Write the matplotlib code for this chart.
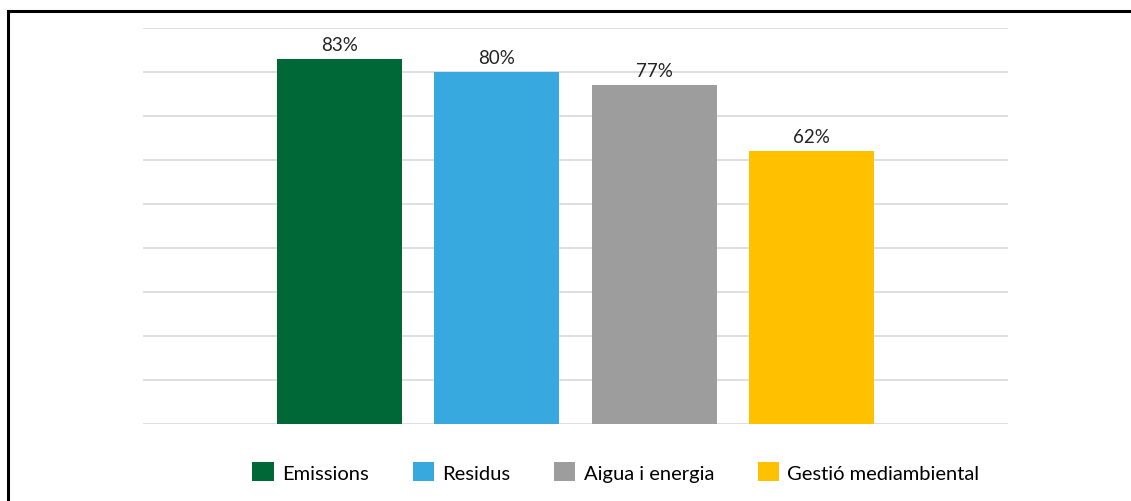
import matplotlib.pyplot as plt
from matplotlib.patches import Rectangle

plt.rcParams['font.family'] = ['Lato', 'DejaVu Sans']

# Chart data
series = ["Emissions", "Residus", "Aigua i energia", "Gestió mediambiental"]
values = [83, 80, 77, 62]
colors = ["#006837", "#38A9DF", "#9D9D9D", "#FFC000"]
yticks = [0, 10, 20, 30, 40, 50, 60, 70, 80, 90]

W, H = 1131, 502
fig = plt.figure(figsize=(W / 100, H / 100), dpi=100)
ax = fig.add_axes([143 / W, 1 - 425 / H, 865 / W, 396 / H])

# Outer frame (left and top edges visible, the rest is cropped)
fig.patches.append(Rectangle((8 / W, -0.1), 1.2, 1 - 11.5 / H + 0.1,
                             transform=fig.transFigure, fill=False,
                             edgecolor="black", linewidth=2.2, zorder=10))

pos = list(range(len(series)))
bars = ax.bar(pos, values, width=0.795, color=colors, label=series, zorder=3)
for b, v in zip(bars, values):
    ax.text(b.get_x() + b.get_width() / 2, v + 1.3, f"{v}%",
            ha="center", va="bottom", fontsize=13.5, color="#222222")

ax.set_xlim(-1.25, 4.25)
ax.set_ylim(0, 90)
ax.set_yticks(yticks)
ax.yaxis.grid(True, color="#D9D9D9", linewidth=1.2, zorder=0)
ax.set_axisbelow(True)
ax.tick_params(left=False, bottom=False, labelleft=False, labelbottom=False)
for s in ax.spines.values():
    s.set_visible(False)

fig.legend(bars, series, loc="center", bbox_to_anchor=(616 / W, 1 - 473 / H),
           ncol=4, frameon=False, fontsize=14.5, handlelength=1.05,
           handleheight=1.05, handletextpad=0.4, columnspacing=2.2)

fig.savefig("out.png", dpi=100)
